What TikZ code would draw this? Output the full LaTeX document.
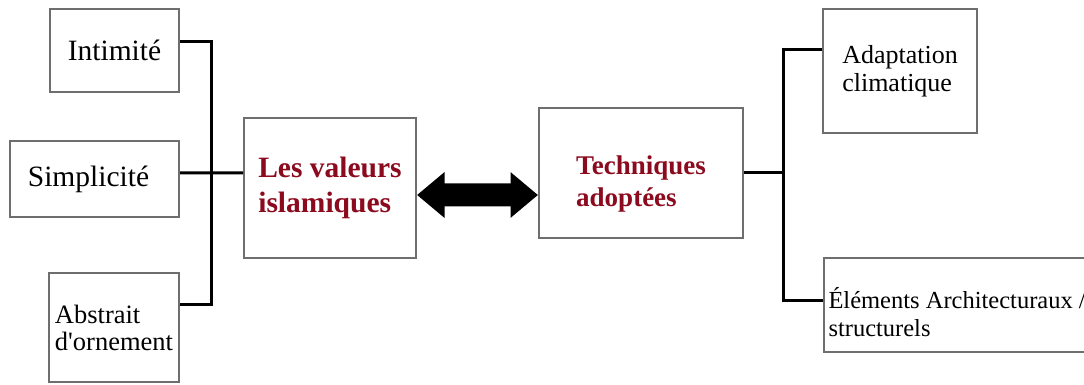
\documentclass[tikz,border=0pt]{standalone}
\usepackage{fontspec}
\setmainfont{Liberation Serif}
\usetikzlibrary{arrows.meta}
\definecolor{valred}{RGB}{140,10,30}
\definecolor{boxgray}{RGB}{110,110,110}
\tikzset{
  box/.style={draw=boxgray, line width=0.8pt, inner sep=0pt, align=left, fill=white},
  title/.style={box, text=valred, font=\bfseries\fontsize{11.8}{14}\selectfont},
  boxtext/.style={inner sep=0pt, align=left},
  link/.style={draw=black, line width=1.2pt},
  biarrow/.style={line width=9.2pt, {Triangle[length=11pt,width=17.6pt]}-{Triangle[length=11pt,width=17.6pt]}}
}
\begin{document}
\begin{tikzpicture}[x=0.4pt,y=-0.4pt]
\clip (0,0) rectangle (1084,385);

\node [box, minimum width=51.6pt, minimum height=33.2pt, font=\fontsize{11.8}{14}\selectfont] (intim) at (114.5,50.5) {Intimité};
\node [box, minimum width=67.6pt, minimum height=30.4pt, font=\fontsize{11.8}{14}\selectfont, label={[boxtext, font=\fontsize{11.8}{14}\selectfont, xshift=-2.4pt]center:Simplicité}] (simpl) at (94.5,179) {};
\node [box, minimum width=52pt, minimum height=43.6pt, font=\fontsize{10.6}{10.8}\selectfont] (abstr) at (114,327.5) {Abstrait\\d\textquotesingle ornement};
\node [title, minimum width=68.8pt, minimum height=56pt] (valeur) at (330,188) {Les valeurs\\islamiques};
\node [title, minimum width=81.6pt, minimum height=52pt, label={[boxtext, text=valred, font=\bfseries\fontsize{10.8}{12.8}\selectfont, yshift=-4.6pt]center:Techniques\\adoptées}] (techn) at (641,173) {};
\node [box, minimum width=61.6pt, minimum height=49.6pt, font=\fontsize{10.4}{11.2}\selectfont] (adapt) at (900,71) {Adaptation\\climatique};
\node [box, anchor=west, minimum width=124pt, minimum height=37.6pt, label={[boxtext, font=\fontsize{9.8}{11.2}\selectfont, anchor=west, xshift=2pt, yshift=-2.8pt]west:Éléments Architecturaux /\\structurels}] (elem) at (823,305) {};
\coordinate (jl) at (211,173);
\coordinate (jr) at (783,173);

\draw [link] ([yshift=3.4pt]intim.east) -| (jl) |- ([yshift=9.4pt]abstr.east);
\draw [link] ([yshift=2.4pt]simpl.east) -- ([yshift=6pt]valeur.west);
\draw [biarrow] ([yshift=-2.8pt]valeur.east) -- ([yshift=-8.8pt]techn.west);
\draw [link] (techn.east) -- (jr);
\draw [link] ([yshift=8.4pt]adapt.west) -| (jr) |- ([yshift=2pt]elem.west);
\end{tikzpicture}
\end{document}
